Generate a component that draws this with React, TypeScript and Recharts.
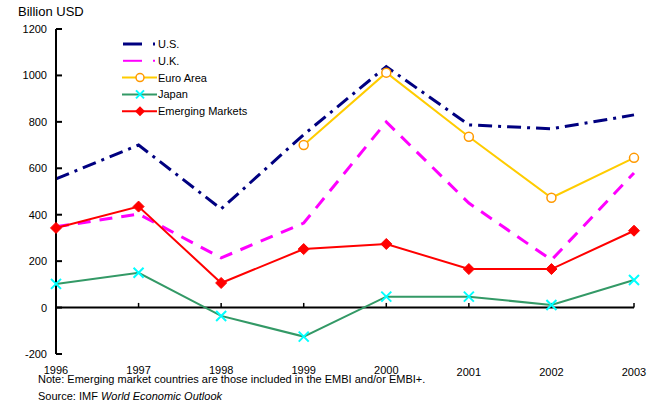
import { LineChart, Line, XAxis, YAxis, ReferenceLine } from "recharts";

const years = [1996, 1997, 1998, 1999, 2000, 2001, 2002, 2003];
const usValues = [554, 700, 425, 745, 1038, 787, 770, 830];
const ukValues = [348, 403, 214, 364, 800, 450, 205, 580];
const euroValues = [null, null, null, 700, 1012, 736, 473, 645];
const japanValues = [102, 150, -36, -125, 47, 47, 11, 119];
const emergingValues = [343, 435, 106, 252, 274, 166, 166, 331];
const yTicks = [-200, 0, 200, 400, 600, 800, 1000, 1200];

const data = years.map((year, i) => ({
  year,
  us: usValues[i],
  uk: ukValues[i],
  euro: euroValues[i],
  japan: japanValues[i],
  emerging: emergingValues[i],
}));

const FONT = '"Liberation Sans", Arial, sans-serif';

const US_COLOR = "#000080";
const UK_COLOR = "#FF00FF";
const EURO_COLOR = "#FFCC00";
const EURO_MARK = "#FF9900";
const JAPAN_COLOR = "#339966";
const JAPAN_MARK = "#00FFFF";
const EM_COLOR = "#FF0000";

// eslint-disable-next-line @typescript-eslint/no-explicit-any
const CrossDot = (props: any) => {
  const { cx, cy, index } = props;
  if (cx == null || cy == null) return <g key={`x-${index}`} />;
  const s = 5;
  return (
    <path
      key={`x-${index}`}
      d={`M${cx - s},${cy - s}L${cx + s},${cy + s}M${cx - s},${cy + s}L${cx + s},${cy - s}`}
      stroke={JAPAN_MARK}
      strokeWidth={2}
      fill="none"
    />
  );
};

// eslint-disable-next-line @typescript-eslint/no-explicit-any
const DiamondDot = (props: any) => {
  const { cx, cy, index } = props;
  if (cx == null || cy == null) return <g key={`d-${index}`} />;
  const s = 5.5;
  return (
    <path
      key={`d-${index}`}
      d={`M${cx},${cy - s}L${cx + s},${cy}L${cx},${cy + s}L${cx - s},${cy}Z`}
      fill={EM_COLOR}
      stroke={EM_COLOR}
    />
  );
};

// eslint-disable-next-line @typescript-eslint/no-explicit-any
const YTick = (props: any) => {
  const { x, y, payload } = props;
  return (
    <g>
      <line x1={x} x2={x + 6} y1={y} y2={y} stroke="#000" strokeWidth={2} />
      <text x={x - 9} y={y + 4} textAnchor="end" fontSize={11} fontFamily={FONT} fill="#000">
        {payload.value}
      </text>
    </g>
  );
};

// eslint-disable-next-line @typescript-eslint/no-explicit-any
const XTick = (props: any) => {
  const { x, y, payload } = props;
  const late = payload.value > 2000;
  return (
    <text x={x} y={y + (late ? 22 : 20)} textAnchor="middle" fontSize={11} fontFamily={FONT} fill="#000">
      {payload.value}
    </text>
  );
};

const legendRows = [
  { key: "us", label: "U.S." },
  { key: "uk", label: "U.K." },
  { key: "euro", label: "Euro Area" },
  { key: "japan", label: "Japan" },
  { key: "emerging", label: "Emerging Markets" },
];

function LegendBox() {
  return (
    <svg
      width={160}
      height={90}
      style={{ position: "absolute", left: 121, top: 36, overflow: "visible" }}
    >
      {legendRows.map((r, i) => {
        const y = 8 + i * 16.8;
        return (
          <g key={r.key}>
            {r.key === "us" && (
              <g>
                <line x1={2} x2={21} y1={y} y2={y} stroke={US_COLOR} strokeWidth={3} />
                <line x1={32} x2={34} y1={y} y2={y} stroke={US_COLOR} strokeWidth={3} />
              </g>
            )}
            {r.key === "uk" && (
              <g>
                <line x1={2} x2={21} y1={y} y2={y} stroke={UK_COLOR} strokeWidth={2} />
                <line x1={32} x2={34} y1={y} y2={y} stroke={UK_COLOR} strokeWidth={2} />
              </g>
            )}
            {r.key === "euro" && (
              <g>
                <line x1={1} x2={36} y1={y} y2={y} stroke={EURO_COLOR} strokeWidth={2} />
                <circle cx={19} cy={y} r={4} fill="#fff" stroke={EURO_MARK} strokeWidth={1.5} />
              </g>
            )}
            {r.key === "japan" && (
              <g>
                <line x1={1} x2={36} y1={y} y2={y} stroke={JAPAN_COLOR} strokeWidth={2} />
                <path
                  d={`M15,${y - 4}L23,${y + 4}M15,${y + 4}L23,${y - 4}`}
                  stroke={JAPAN_MARK}
                  strokeWidth={2}
                />
              </g>
            )}
            {r.key === "emerging" && (
              <g>
                <line x1={1} x2={36} y1={y} y2={y} stroke={EM_COLOR} strokeWidth={2} />
                <path d={`M19,${y - 5}L24,${y}L19,${y + 5}L14,${y}Z`} fill={EM_COLOR} />
              </g>
            )}
            <text x={37} y={y + 4} fontSize={11} fontFamily={FONT} fill="#000">
              {r.label}
            </text>
          </g>
        );
      })}
    </svg>
  );
}

export default function App() {
  return (
    <div style={{ position: "absolute", left: 0, top: 0, width: 652, height: 406, background: "#fff", fontFamily: FONT }}>
      <div style={{ position: "absolute", left: 18, top: 4, fontSize: 13, color: "#000" }}>Billion USD</div>
      <LineChart width={652} height={406} data={data} margin={{ top: 29, right: 18, bottom: 22, left: 0 }}>
        <XAxis
          dataKey="year"
          height={30}
          axisLine={false}
          tickLine={false}
          tickSize={0}
          tickMargin={0}
          tick={XTick}
          interval={0}
        />
        <YAxis
          width={56}
          domain={[-200, 1200]}
          ticks={yTicks}
          axisLine={{ stroke: "#000", strokeWidth: 2 }}
          tickLine={false}
          tickSize={0}
          tickMargin={0}
          tick={YTick}
          interval={0}
        />
        <ReferenceLine y={0} stroke="#000" strokeWidth={2} />
        {years.slice(1).map((yr) => (
          <ReferenceLine
            key={yr}
            segment={[
              { x: yr, y: 0 },
              { x: yr, y: 20 },
            ]}
            stroke="#000"
            strokeWidth={1.5}
          />
        ))}
        <Line
          dataKey="us"
          stroke={US_COLOR}
          strokeWidth={3}
          strokeDasharray="14 6 3 6"
          dot={false}
          isAnimationActive={false}
        />
        <Line
          dataKey="uk"
          stroke={UK_COLOR}
          strokeWidth={3}
          strokeDasharray="13 9"
          dot={false}
          isAnimationActive={false}
        />
        <Line
          dataKey="euro"
          stroke={EURO_COLOR}
          strokeWidth={2}
          dot={{ r: 4.5, stroke: EURO_MARK, strokeWidth: 1.5, fill: "#fff" }}
          connectNulls={false}
          isAnimationActive={false}
        />
        <Line
          dataKey="japan"
          stroke={JAPAN_COLOR}
          strokeWidth={2}
          dot={CrossDot}
          isAnimationActive={false}
        />
        <Line
          dataKey="emerging"
          stroke={EM_COLOR}
          strokeWidth={2}
          dot={DiamondDot}
          isAnimationActive={false}
        />
      </LineChart>
      <LegendBox />
      <div style={{ position: "absolute", left: 38, top: 373, fontSize: 11, color: "#000", whiteSpace: "nowrap" }}>
        Note: Emerging market countries are those included in the EMBI and/or EMBI+.
      </div>
      <div style={{ position: "absolute", left: 38, top: 390, fontSize: 11, color: "#000", whiteSpace: "nowrap" }}>
        Source: IMF <i>World Economic Outlook</i>
      </div>
    </div>
  );
}
